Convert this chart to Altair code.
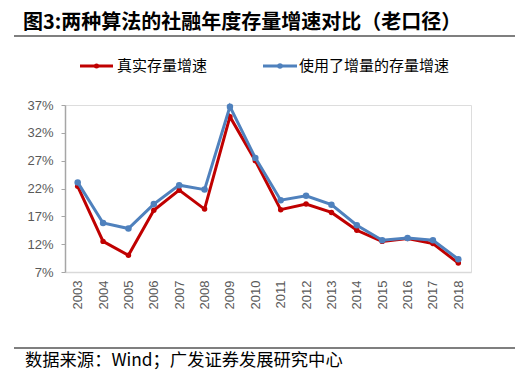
import altair as alt
import pandas as pd

years = [str(y) for y in range(2003, 2019)]
real_growth = [22.4, 12.5, 10.0, 18.1, 21.7, 18.3, 34.9, 27.0, 18.2, 19.2, 17.7, 14.5, 12.5, 13.0, 12.1, 8.6]
flow_growth = [23.1, 15.8, 14.8, 19.2, 22.6, 21.8, 36.7, 27.5, 19.9, 20.7, 19.1, 15.4, 12.7, 13.1, 12.7, 9.3]
series_names = ["真实存量增速", "使用了增量的存量增速"]
y_ticks = [7, 12, 17, 22, 27, 32, 37]
title_text = "图3:两种算法的社融年度存量增速对比（老口径）"
source_text = "数据来源：Wind；广发证券发展研究中心"

RED = "#C00000"
BLUE = "#4F81BD"
CJK = "Noto Sans CJK SC"

df = pd.DataFrame({
    "year": years * 2,
    "value": real_growth + flow_growth,
    "series": [series_names[0]] * len(years) + [series_names[1]] * len(years),
})

x_enc = alt.X("year:O", sort=years, scale=alt.Scale(padding=0.5),
              axis=alt.Axis(title=None, labelAngle=-90, ticks=False, labelPadding=8,
                            labelFont="Liberation Sans", labelFontSize=13, labelColor="#595959",
                            domainColor="#D9D9D9", domainWidth=1.5, grid=False))
y_enc = alt.Y("value:Q", scale=alt.Scale(domain=[7, 37], nice=False, zero=False),
              axis=alt.Axis(title=None, values=y_ticks, labelExpr="datum.value + '%'",
                            labelFont="Liberation Sans", labelFontSize=13, labelColor="#595959",
                            tickSize=4, tickColor="#A6A6A6", domainColor="#A6A6A6", domainWidth=1.5,
                            labelPadding=8, grid=False))

def series_layer(name, color, size):
    d = df[df["series"] == name]
    base = alt.Chart(d).encode(x=x_enc, y=y_enc)
    return base.mark_line(color=color, strokeWidth=3) + base.mark_point(
        filled=True, color=color, size=size, opacity=1)

red = series_layer(series_names[0], RED, 30)
blue = series_layer(series_names[1], BLUE, 42)

one = alt.Data(values=[{}])

def text(t, x, y, size, weight="normal", font=CJK, color="#000000"):
    return alt.Chart(one).mark_text(text=t, align="left", baseline="middle", fontSize=size,
                                    fontWeight=weight, font=font, color=color).encode(
        x=alt.value(x), y=alt.value(y))

def hrule(x1, x2, y, color="#000000", w=1.2):
    return alt.Chart(one).mark_rule(color=color, strokeWidth=w).encode(
        x=alt.value(x1), x2=alt.value(x2), y=alt.value(y))

def dot(x, y, color, size):
    return alt.Chart(one).mark_point(filled=True, color=color, size=size, opacity=1).encode(
        x=alt.value(x), y=alt.value(y))

deco = [
    text(title_text, -42, -82, 20, weight="bold"),
    hrule(-51, 450, -69),
    hrule(15, 48, -39, RED, 2.8), dot(31.5, -39, RED, 25),
    text(series_names[0], 52, -39, 15),
    hrule(198, 232, -39, BLUE, 2.8), dot(215, -39, BLUE, 30),
    text(series_names[1], 234, -39, 15),
    hrule(-51, 450, 243),
    text(source_text, -40, 256, 17.3),
]

chart = alt.layer(red, blue, *deco).properties(
    width=406, height=167,
    autosize=alt.AutoSizeParams(type="none"),
    padding={"left": 57, "top": 97, "right": 47, "bottom": 100},
).configure_view(stroke=None).configure(background="white")

chart.save("out.html", embed_options={"renderer": "svg", "actions": False})
